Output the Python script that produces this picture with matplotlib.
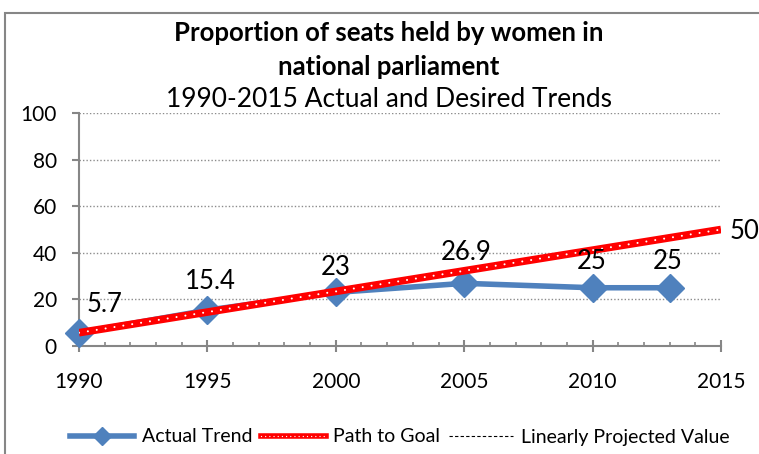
import matplotlib
matplotlib.use("Agg")
import matplotlib.pyplot as plt
from matplotlib.patches import Rectangle
from matplotlib.ticker import MultipleLocator
from matplotlib.lines import Line2D

plt.rcParams['font.family'] = ['Lato', 'DejaVu Sans']

years_actual = [1990, 1995, 2000, 2005, 2010, 2013]
actual = [5.7, 15.4, 23, 26.9, 25, 25]
actual_labels = ['5.7', '15.4', '23', '26.9', '25', '25']
years_goal = [1990, 2015]
goal = [5.7, 50]
years_proj = []
proj = []
x_ticks = [1990, 1995, 2000, 2005, 2010, 2015]
y_ticks = [0, 20, 40, 60, 80, 100]

W, H = 759, 454
PX = 0.72  # points per pixel
fig = plt.figure(figsize=(W/100, H/100), dpi=100)
ax = fig.add_axes([79/W, 1-346/H, (721-79)/W, (346-113)/H])

blue = '#4F81BD'
gray = '#868686'

# grid
for v in y_ticks[1:]:
    ax.axhline(v, color='#8c8c8c', lw=1, ls=(0, (1, 1.5)), zorder=1)

ax.plot(years_actual, actual, color=blue, lw=4, marker='D', ms=14,
        mec=blue, mfc=blue, zorder=3, clip_on=False)
ax.plot(years_goal, goal, color='#FF0000', lw=5.5, solid_capstyle='butt', zorder=4)
ax.plot(years_goal, goal, color='white', lw=1.5, ls=(0, (0.01, 4.3)),
        dash_capstyle='round', zorder=5)
ax.plot(years_proj, proj, color='black', lw=1, ls=(0, (3, 2)))

offsets = [(26, 28), (3, 29), (0, 25), (2, 31), (-1, 26), (-2, 26)]
for x, y, t, (dx, dy) in zip(years_actual, actual, actual_labels, offsets):
    ax.annotate(t, (x, y), xytext=(dx*PX, dy*PX), textcoords='offset points',
                ha='center', va='center', fontsize=18.5, zorder=6)
ax.annotate('50', (years_goal[-1], goal[-1]), xytext=(24*PX, -2*PX),
            textcoords='offset points', ha='center', va='center', fontsize=18.5,
            annotation_clip=False)

ax.set_xlim(1990, 2015)
ax.set_ylim(0, 100)
ax.set_xticks(x_ticks)
ax.xaxis.set_minor_locator(MultipleLocator(1))
ax.set_yticks(y_ticks)
for s in ['top', 'right']:
    ax.spines[s].set_visible(False)
for s in ['left', 'bottom']:
    ax.spines[s].set_color(gray)
    ax.spines[s].set_linewidth(1.5)
ax.tick_params(axis='x', which='major', direction='inout', length=8, width=1.5,
               color=gray, pad=15, labelsize=15)
ax.tick_params(axis='x', which='minor', direction='in', length=3, width=1.2,
               color=gray)
ax.tick_params(axis='y', direction='out', length=5, width=1.5, color=gray,
               pad=11, labelsize=15)
ax.set_facecolor('none')

fig.text(389/W, 1-33/H, 'Proportion of seats held by women in', ha='center',
         va='center', fontsize=18.5, fontweight='bold')
fig.text(389/W, 1-67/H, 'national parliament', ha='center', va='center',
         fontsize=18.5, fontweight='bold')
fig.text(389/W, 1-100/H, '1990-2015 Actual and Desired Trends', ha='center',
         va='center', fontsize=19)

fig.patches.append(Rectangle((5/W, -0.2), 1.2, 1.2 - 13/H, transform=fig.transFigure,
                             fill=False, edgecolor=gray, lw=1.5))

h1 = Line2D([], [], color=blue, lw=4, marker='D', ms=9)
h2 = (Line2D([], [], color='#FF0000', lw=4),
      Line2D([], [], color='white', lw=1, ls=(0, (0.01, 3)), dash_capstyle='round'))
h3 = Line2D([], [], color='black', lw=0.8, ls=(0, (3, 2)))
fig.legend([h1, h2, h3], ['Actual Trend', 'Path to Goal', 'Linearly Projected Value'],
           loc='center', bbox_to_anchor=(400/W, 1-437/H), ncol=3, frameon=False,
           fontsize=14, handlelength=3.3, handletextpad=0.4, columnspacing=0.45,
           borderpad=0, borderaxespad=0)

fig.savefig('out.png', dpi=100)
